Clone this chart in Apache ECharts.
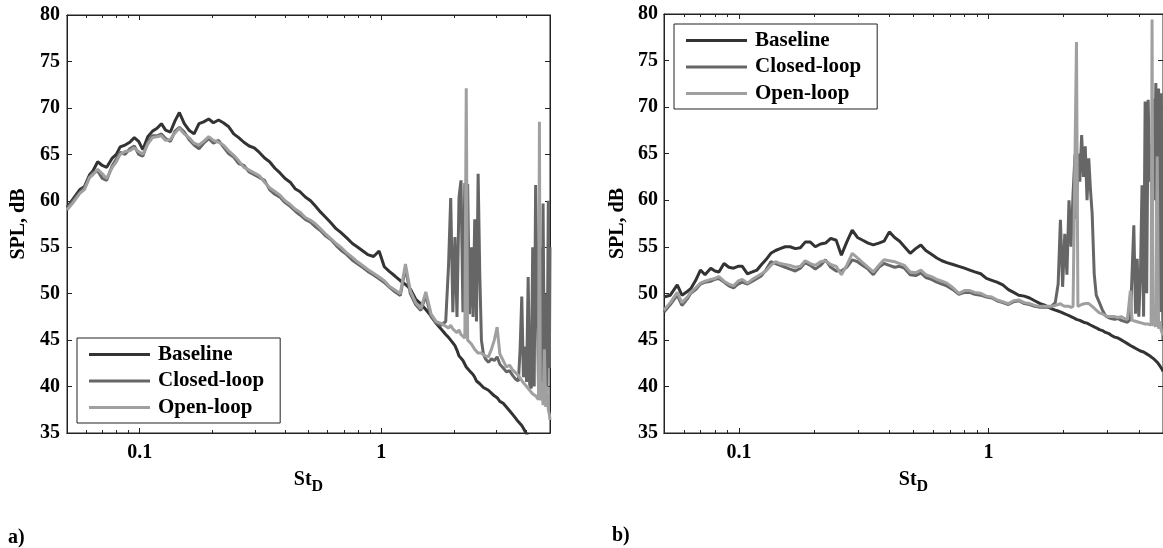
<!DOCTYPE html>
<html>
<head>
<meta charset="utf-8">
<script src="https://cdn.jsdelivr.net/npm/echarts@6/dist/echarts.min.js"></script>
<style>
  html, body { margin: 0; padding: 0; background: #fff; }
  #chart { width: 1163px; height: 548px; }
</style>
</head>
<body>
<div id="chart"></div>
<script>
// Strouhal number grid shared by all curves
const st = [
  0.05, 0.053, 0.0565, 0.059, 0.062, 0.064, 0.067, 0.070, 0.073, 0.077,
  0.080, 0.083, 0.087, 0.091, 0.095, 0.099, 0.103, 0.108, 0.113, 0.118,
  0.123, 0.128, 0.134, 0.140, 0.146, 0.153, 0.160, 0.168, 0.176, 0.184,
  0.193, 0.202, 0.212, 0.222, 0.233, 0.245, 0.257, 0.270, 0.284, 0.298,
  0.313, 0.329, 0.345, 0.363, 0.381, 0.400, 0.420, 0.440, 0.460, 0.485,
  0.51, 0.535, 0.56, 0.59, 0.62, 0.65, 0.68, 0.72, 0.76, 0.80,
  0.84, 0.88, 0.93, 0.98, 1.03, 1.08, 1.14, 1.20, 1.26, 1.32,
  1.39, 1.46, 1.53, 1.61, 1.69, 1.77, 1.85, 1.90, 1.94, 1.98,
  2.02, 2.06, 2.10, 2.14, 2.18, 2.22, 2.25, 2.28, 2.32, 2.36,
  2.40, 2.44, 2.48, 2.52, 2.56, 2.60, 2.65, 2.70, 2.78, 2.86,
  2.94, 3.02, 3.10, 3.20, 3.30, 3.40, 3.50, 3.60, 3.70, 3.76,
  3.82, 3.88, 3.94, 4.00, 4.06, 4.12, 4.18, 4.24, 4.30, 4.36,
  4.42, 4.48, 4.52, 4.56, 4.62, 4.68, 4.74, 4.80, 4.86, 4.92,
  4.97, 5.00
];

// panel a)
const aBaseline = [
  59.3, 60.2, 61.2, 61.5, 62.8, 63.2, 64.2, 63.8, 63.6, 64.6,
  65.0, 65.8, 66.0, 66.3, 66.8, 66.4, 65.5, 66.9, 67.5, 67.8,
  68.3, 67.6, 67.4, 68.6, 69.5, 68.3, 67.6, 67.2, 68.3, 68.5,
  68.8, 68.4, 68.7, 68.4, 68.0, 67.2, 66.8, 66.3, 65.9, 65.7,
  65.2, 64.6, 64.2, 63.5, 63.0, 62.4, 62.0, 61.3, 61.0, 60.4,
  60.0, 59.4, 58.8, 58.2, 57.6, 57.0, 56.6, 56.0, 55.4, 55.0,
  54.6, 54.2, 54.0, 54.6, 52.9, 52.4, 51.9, 51.4, 51.0, 50.5,
  49.4, 48.9, 48.3, 47.6, 46.8, 46.2, 45.6, 45.3, 45.0, 44.7,
  44.4, 43.9, 43.3, 43.4, 42.8, 42.6, 42.1, 42.3, 41.7, 41.5,
  41.3, 41.0, 40.6, 40.7, 40.3, 40.1, 39.9, 39.8, 39.6, 39.3,
  39.0, 38.8, 38.4, 38.2, 37.8, 37.4, 37.0, 36.6, 36.2, 36.0,
  35.8, 35.5, 35.2, 34.9, 34.6, 34.3, 34.1, 33.9, 33.7, 33.5,
  33.3, 33.1, 33.0, 32.9, 32.7, 32.5, 32.3, 32.1, 32.0, 31.8,
  31.7, 31.6
];
const aClosed = [
  59.2, 60.0, 60.9, 61.4, 62.6, 63.0, 63.2, 62.4, 62.2, 63.8,
  64.5, 65.2, 65.0, 65.6, 65.9, 65.0, 64.8, 66.3, 67.0, 67.0,
  67.2, 66.7, 66.4, 67.5, 67.9, 67.4, 66.6, 66.0, 65.6, 66.2,
  66.7, 66.2, 66.5, 65.8, 65.1, 64.7, 64.0, 63.8, 63.1, 62.8,
  62.5, 62.2, 61.2, 60.7, 60.4, 59.8, 59.4, 58.9, 58.5, 58.0,
  57.7, 57.2, 56.8, 56.2, 55.8, 55.2, 54.7, 54.2, 53.6, 53.2,
  52.8, 52.4, 52.0, 51.6, 51.2, 50.7, 50.2, 49.8, 52.8, 50.0,
  48.8, 48.2, 49.8, 47.5, 46.8, 46.6, 47.0, 53.0, 60.3, 48.0,
  56.1, 47.5, 60.4, 62.2, 48.0, 61.9, 50.0, 61.8, 47.8, 55.0,
  47.5, 58.0, 47.0, 62.9, 52.0, 45.0, 43.5, 43.0, 42.6, 43.0,
  42.8, 43.2, 42.4, 42.0, 41.6, 41.7, 41.2, 40.8, 40.6, 44.0,
  49.7, 41.0, 44.3, 40.5, 51.8, 40.2, 39.8, 55.0, 40.0, 61.7,
  61.8, 40.0, 42.0, 55.0, 39.0, 59.7, 40.0, 50.0, 39.5, 60.0,
  42.0, 55.0
];
const aOpen = [
  59.0, 59.8, 60.8, 61.2, 62.5, 62.8, 63.4, 62.9, 62.4, 63.6,
  64.2, 65.0, 65.3, 65.4, 65.7, 65.3, 65.0, 66.1, 66.8, 66.9,
  67.0, 66.5, 66.6, 67.3, 67.8, 67.2, 66.8, 66.2, 66.0, 66.4,
  66.9, 66.5, 66.3, 66.0, 65.4, 64.9, 64.3, 63.6, 63.3, 63.0,
  62.7, 62.0, 61.4, 61.0, 60.6, 60.0, 59.6, 59.1, 58.8, 58.2,
  57.9, 57.5, 57.0, 56.4, 55.9, 55.4, 55.0, 54.4, 53.9, 53.4,
  53.0, 52.6, 52.2, 51.8, 51.4, 50.8, 50.4, 50.0, 53.2, 50.3,
  49.0, 48.4, 50.2, 47.8, 47.0, 46.8, 46.5, 46.3, 46.6, 46.2,
  46.0, 45.8, 46.1, 45.6, 45.5, 45.2, 72.1, 45.0, 44.8, 44.6,
  44.3, 44.0, 43.8, 43.6, 43.5, 43.6, 43.4, 43.3, 43.2, 44.0,
  45.0, 46.4, 43.5, 42.8, 42.1, 42.3, 41.8, 41.5, 41.2, 40.9,
  40.7, 40.4, 40.2, 40.0, 39.8, 39.6, 39.4, 39.2, 39.0, 39.0,
  38.8, 38.6, 68.5, 38.5, 40.5, 38.0, 44.0, 37.8, 40.0, 37.5,
  37.0, 36.4
];

// panel b)
const bBaseline = [
  49.6, 49.8, 50.9, 49.8, 50.2, 50.5, 51.4, 52.5, 52.0, 52.7,
  52.4, 52.3, 53.2, 52.8, 52.7, 52.9, 52.9, 52.1, 52.3, 52.5,
  53.1, 53.6, 54.3, 54.6, 54.8, 55.0, 55.0, 54.8, 54.9, 55.5,
  55.5, 55.0, 55.3, 55.4, 55.9, 55.7, 54.1, 55.5, 56.8, 56.0,
  55.7, 55.4, 55.2, 55.4, 55.6, 56.6, 56.0, 55.6, 55.0, 54.3,
  54.8, 55.2, 54.6, 54.2, 53.8, 53.5, 53.3, 53.1, 52.9, 52.7,
  52.5, 52.3, 52.1, 51.6, 51.4, 51.2, 50.9, 50.4, 50.1, 49.8,
  49.7, 49.5, 49.2, 48.9, 48.7, 48.4, 48.2, 48.1, 48.0, 47.9,
  47.8, 47.7, 47.6, 47.5, 47.4, 47.3, 47.2, 47.2, 47.1, 47.0,
  46.9, 46.8, 46.8, 46.7, 46.6, 46.5, 46.4, 46.3, 46.1, 46.0,
  45.8, 45.7, 45.5, 45.3, 45.2, 45.0, 44.8, 44.6, 44.4, 44.3,
  44.2, 44.1, 44.0, 43.9, 43.8, 43.7, 43.7, 43.6, 43.5, 43.4,
  43.3, 43.2, 43.1, 43.0, 42.9, 42.8, 42.6, 42.4, 42.2, 42.0,
  41.8, 41.6
];
const bClosed = [
  48.0, 48.8, 49.8, 48.7, 49.4, 50.0, 50.4, 51.0, 51.2, 51.3,
  51.5, 51.6, 51.2, 50.8, 50.6, 51.0, 51.2, 51.0, 51.3, 51.6,
  51.9, 52.5, 53.4, 53.2, 53.0, 52.8, 52.6, 52.4, 52.7, 53.3,
  53.0, 52.6, 53.0, 53.6, 52.8, 52.4, 52.4, 52.8, 53.6, 53.4,
  53.0, 52.6, 52.0, 52.8, 53.2, 53.0, 52.8, 52.9, 52.7, 52.0,
  51.9, 52.2, 51.7, 51.5, 51.2, 51.0, 50.8, 50.4, 49.9, 50.1,
  50.1, 49.9, 49.8, 49.6, 49.5, 49.2, 49.0, 48.8, 49.1, 49.2,
  48.9, 48.8, 48.6, 48.5, 48.5, 48.5, 49.0, 51.0, 57.9, 50.7,
  56.4, 52.0, 60.0, 55.0, 60.7, 64.9, 58.0, 65.0, 62.0, 67.0,
  62.5, 65.8, 60.0, 64.5, 61.1, 58.6, 52.1, 49.8, 49.0, 48.2,
  47.6, 47.4, 47.3, 47.2, 47.3, 47.1, 47.0, 46.9, 47.2, 47.0,
  57.3, 47.8, 53.7, 47.5, 52.0, 61.6, 47.5, 70.6, 50.0, 70.8,
  62.0, 66.0, 50.0, 70.9, 60.0, 72.6, 55.0, 72.0, 48.0, 71.5,
  52.0, 45.0
];
const bOpen = [
  48.2, 49.0, 50.1, 49.0, 49.6, 50.1, 50.6, 51.1, 51.3, 51.5,
  51.6, 51.8, 51.3, 51.0, 50.8, 51.3, 51.5, 51.1, 51.5, 51.8,
  52.1, 52.4, 53.0, 53.4, 53.2, 53.1, 53.0, 52.8, 52.9, 53.5,
  53.2, 53.0, 53.4, 53.5, 53.1, 52.9, 52.0, 53.0, 54.3, 53.8,
  53.3, 52.8, 52.3, 53.0, 53.6, 53.5, 53.4, 53.2, 53.0, 52.3,
  52.2, 52.5, 52.0, 51.8, 51.5, 51.3, 51.1, 50.6, 50.0, 50.3,
  50.3, 50.1, 50.0, 49.7, 49.6, 49.3, 49.1, 48.9, 49.2, 49.3,
  49.0, 48.9, 48.7, 48.6, 48.6, 48.6, 48.7, 48.8, 48.9, 48.7,
  48.6, 48.6, 48.6, 48.5, 48.6, 48.7, 77.0, 48.6, 48.7, 48.8,
  48.8, 48.9, 48.8, 48.9, 48.9, 48.6, 48.4, 48.2, 47.9, 47.8,
  47.6, 47.5, 47.5, 47.5, 47.4, 47.5, 47.3, 47.2, 50.3, 47.1,
  47.0, 47.0, 46.9, 46.9, 46.8, 46.8, 46.8, 46.7, 46.7, 46.7,
  46.6, 46.6, 79.4, 46.5, 46.8, 46.4, 64.7, 46.2, 47.0, 46.0,
  45.8, 45.5
];

const seriesNames = ['Baseline', 'Closed-loop', 'Open-loop'];
const majorTicks = [0.1, 1];
const minorTicks = [0.06, 0.07, 0.08, 0.09, 0.2, 0.3, 0.4, 0.5, 0.6, 0.7, 0.8, 0.9, 2, 3, 4];
const tickLabels = ['0.1', '1'];

const FONT = "'Liberation Serif', 'Times New Roman', serif";
const COLORS = ['#333333', '#666666', '#a0a0a0'];
const AXIS_COLOR = '#222';

function pairs(vals) {
  return st.map((x, i) => [x, vals[i]]);
}

function labelFor(v) {
  const i = majorTicks.findIndex(t => Math.abs(t - v) < t * 1e-6);
  return i >= 0 ? tickLabels[i] : '';
}

function makeXAxes(gridIndex) {
  const base = {
    type: 'log', logBase: 10, min: 0.05, max: 5, gridIndex,
    splitLine: { show: false },
    axisLine: { show: true, onZero: false, lineStyle: { color: AXIS_COLOR, width: 1 } }
  };
  const tick = (vals, len) => ({ show: true, inside: true, length: len, customValues: vals, lineStyle: { color: AXIS_COLOR } });
  return [
    {
      ...base, position: 'bottom',
      axisTick: tick(majorTicks, 5),
      axisLabel: {
        customValues: majorTicks, formatter: labelFor, margin: 10,
        fontFamily: FONT, fontWeight: 'bold', fontSize: 20, color: '#000'
      },
      name: '{s|St}{d|D}', nameLocation: 'middle', nameGap: 32,
      nameTextStyle: {
        rich: {
          s: { fontFamily: FONT, fontWeight: 'bold', fontSize: 20, color: '#000' },
          d: { fontFamily: FONT, fontWeight: 'bold', fontSize: 16, color: '#000', padding: [14, 0, 0, 0] }
        }
      }
    },
    { ...base, position: 'bottom', axisTick: tick(minorTicks, 3), axisLabel: { show: false } },
    { ...base, position: 'top', axisTick: tick(majorTicks, 5), axisLabel: { show: false } },
    { ...base, position: 'top', axisTick: tick(minorTicks, 3), axisLabel: { show: false } }
  ];
}

function makeYAxes(gridIndex, nameGap, labelMargin) {
  const base = {
    type: 'value', min: 35, max: 80, interval: 5, gridIndex,
    splitLine: { show: false },
    axisLine: { show: true, onZero: false, lineStyle: { color: AXIS_COLOR, width: 1 } },
    axisTick: { show: true, inside: true, length: 5, lineStyle: { color: AXIS_COLOR } }
  };
  return [
    {
      ...base, position: 'left',
      axisLabel: { margin: labelMargin, fontFamily: FONT, fontWeight: 'bold', fontSize: 20, color: '#000' },
      name: 'SPL, dB', nameLocation: 'middle', nameGap,
      nameTextStyle: { fontFamily: FONT, fontWeight: 'bold', fontSize: 20, color: '#000' }
    },
    { ...base, position: 'right', axisLabel: { show: false } }
  ];
}

function makeSeries(panelIndex, lists) {
  return lists.map((vals, k) => ({
    name: seriesNames[k],
    type: 'line',
    xAxisIndex: panelIndex * 4,
    yAxisIndex: panelIndex * 2,
    data: pairs(vals),
    showSymbol: false,
    symbol: 'none',
    clip: true,
    lineStyle: { color: COLORS[k], width: 3 },
    itemStyle: { color: COLORS[k] },
    z: 2 + k
  }));
}

function makeLegend(left, top) {
  return {
    left, top, orient: 'vertical',
    data: seriesNames,
    icon: 'rect', itemWidth: 61, itemHeight: 3, itemGap: 3.5,
    padding: [5, 16, 4, 12],
    borderColor: AXIS_COLOR, borderWidth: 1, backgroundColor: '#fff',
    selectedMode: false,
    textStyle: { fontFamily: FONT, fontWeight: 'bold', fontSize: 21, lineHeight: 23, color: '#000', padding: [0, 0, 0, 3] }
  };
}

const chart = echarts.init(document.getElementById('chart'));
chart.setOption({
  animation: false,
  backgroundColor: '#fff',
  grid: [
    { left: 67, top: 15, width: 483, height: 418, show: true, borderColor: AXIS_COLOR, borderWidth: 1 },
    { left: 664, top: 14, width: 500, height: 419, show: true, borderColor: AXIS_COLOR, borderWidth: 1 }
  ],
  xAxis: [...makeXAxes(0), ...makeXAxes(1)],
  yAxis: [...makeYAxes(0, 38, 7), ...makeYAxes(1, 36, 6)],
  legend: [makeLegend(77, 338), makeLegend(674, 24)],
  graphic: [
    { type: 'text', left: 8, top: 528, style: { text: 'a)', font: 'bold 20px ' + FONT, fill: '#000' } },
    { type: 'text', left: 612, top: 526, style: { text: 'b)', font: 'bold 20px ' + FONT, fill: '#000' } }
  ],
  series: [
    ...makeSeries(0, [aBaseline, aClosed, aOpen]),
    ...makeSeries(1, [bBaseline, bClosed, bOpen])
  ]
});
</script>
</body>
</html>
